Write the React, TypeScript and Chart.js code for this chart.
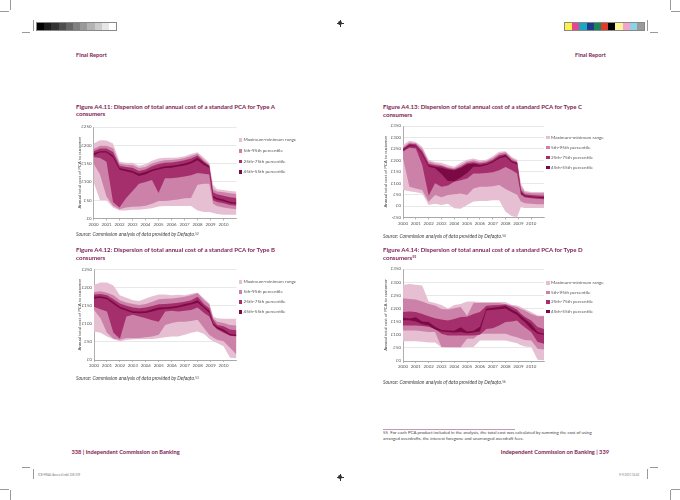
import React, { useEffect, useRef } from "react";
import { Chart, registerables } from "chart.js";

Chart.register(...registerables);

// ---------- data ----------
const YEARS = [2000, 2000.5, 2001, 2001.5, 2002, 2002.5, 2003, 2003.5, 2004, 2004.5, 2005, 2005.5, 2006, 2006.5, 2007, 2007.5, 2008, 2008.5, 2008.9, 2009.2, 2009.5, 2010, 2010.5, 2011];
const X_TICK_LABELS = ["2000", "2001", "2002", "2003", "2004", "2005", "2006", "2007", "2008", "2009", "2010"];
const LEGEND_LABELS = ["Maximum-minimum range", "5th-95th percentile", "25th-75th percentile", "45th-55th percentile"];
const BAND_COLORS = ["#e7bfd3", "#cc81a9", "#a52f6c", "#7b0a44"];
const Y_TITLE = "Annual total cost of PCA to customer";

// Type A
const A_MAX = [205, 214, 213, 205, 155, 152, 152, 144, 148, 158, 164, 166, 166, 167, 170, 176, 181, 166, 152, 92, 80, 78, 75, 74];
const A_P95 = [190, 199, 199, 192, 150, 147, 146, 138, 141, 150, 156, 159, 160, 162, 165, 171, 177, 160, 148, 80, 74, 72, 69, 67];
const A_P75 = [184, 191, 191, 182, 144, 141, 139, 130, 134, 143, 149, 152, 153, 156, 159, 164, 172, 155, 145, 72, 66, 62, 58, 56];
const A_P55 = [178, 184, 184, 172, 138, 134, 130, 122, 127, 134, 139, 143, 144, 147, 150, 156, 166, 152, 143, 62, 56, 52, 46, 44];
const A_P45 = [172, 180, 180, 167, 133, 129, 125, 116, 121, 129, 134, 138, 139, 142, 145, 150, 159, 146, 139, 57, 51, 47, 42, 40];
const A_P25 = [168, 165, 155, 45, 30, 55, 75, 95, 100, 105, 70, 110, 110, 112, 115, 118, 124, 122, 120, 50, 45, 42, 37, 35];
const A_P5 = [150, 120, 60, 35, 25, 30, 32, 33, 35, 40, 48, 48, 50, 52, 55, 56, 92, 95, 95, 40, 34, 30, 27, 25];
const A_MIN = [100, 50, 50, 30, 22, 22, 24, 24, 26, 28, 33, 34, 34, 34, 34, 34, 22, 18, 18, 15, 12, 10, 10, 10];
const A_Y_LABELS = ["£0", "£50", "£100", "£150", "£200", "£250"];

// Type B
const B_MAX = [208, 214, 214, 206, 179, 172, 165, 163, 170, 176, 181, 181, 179, 180, 179, 183, 186, 170, 156, 120, 115, 114, 114, 114];
const B_P95 = [188, 190, 186, 179, 165, 159, 155, 152, 155, 161, 168, 169, 170, 172, 175, 179, 185, 165, 154, 115, 106, 102, 97, 95];
const B_P75 = [181, 182, 179, 168, 156, 150, 145, 143, 145, 149, 154, 155, 156, 158, 161, 165, 175, 154, 143, 111, 97, 93, 84, 82];
const B_P55 = [175, 176, 172, 160, 147, 141, 135, 134, 135, 140, 145, 146, 147, 150, 155, 158, 165, 148, 136, 100, 92, 84, 72, 70];
const B_P45 = [170, 171, 168, 155, 142, 136, 130, 129, 130, 134, 139, 141, 142, 145, 149, 153, 158, 143, 130, 96, 87, 79, 68, 66];
const B_P25 = [147, 140, 134, 75, 59, 120, 125, 120, 115, 110, 106, 134, 136, 134, 136, 138, 145, 130, 120, 97, 85, 75, 68, 65];
const B_P5 = [138, 115, 75, 59, 56, 61, 60, 61, 63, 65, 70, 97, 102, 106, 106, 108, 111, 88, 70, 62, 56, 52, 34, 15];
const B_MIN = [79, 75, 65, 57, 52, 55, 57, 57, 58, 58, 60, 63, 65, 65, 70, 75, 79, 72, 59, 52, 47, 38, 6, 5];
const B_Y_LABELS = ["£0", "£50", "£100", "£150", "£200", "£250"];

// Type C
const C_MAX = [268, 285, 280, 259, 203, 193, 189, 179, 172, 189, 203, 208, 200, 203, 218, 237, 240, 215, 203, 99, 67, 62, 61, 61];
const C_P95 = [258, 278, 275, 250, 195, 185, 180, 170, 165, 180, 195, 200, 193, 197, 210, 230, 235, 208, 197, 85, 60, 57, 56, 56];
const C_P75 = [252, 272, 270, 240, 185, 178, 175, 165, 160, 172, 188, 192, 186, 190, 202, 222, 228, 200, 192, 70, 52, 48, 46, 45];
const C_P55 = [247, 267, 264, 230, 178, 172, 168, 160, 157, 166, 182, 186, 180, 184, 196, 215, 223, 196, 188, 60, 46, 42, 40, 38];
const C_P45 = [243, 262, 260, 225, 172, 165, 140, 110, 108, 125, 145, 172, 172, 178, 190, 208, 216, 190, 182, 55, 42, 38, 36, 34];
const C_P25 = [238, 255, 252, 180, 45, 100, 84, 90, 106, 113, 120, 142, 142, 145, 148, 157, 171, 157, 142, 50, 38, 34, 32, 30];
const C_P5 = [208, 84, 77, 70, 19, 48, 38, 48, 52, 55, 48, 77, 84, 84, 87, 92, 75, 60, 50, 20, 12, 10, 8, 8];
const C_MIN = [70, 65, 60, 55, 5, 10, 5, 10, -10, -12, 5, 20, 22, 22, 25, 25, -25, -45, -48, -5, -8, -8, -8, -8];
const C_Y_LABELS = ["-£50", "£0", "£50", "£100", "£150", "£200", "£250", "£300", "£350"];

// Type D
const D_MAX = [289, 293, 290, 287, 226, 221, 213, 200, 213, 217, 226, 226, 224, 224, 224, 224, 224, 213, 211, 205, 198, 186, 173, 172];
const D_P95 = [239, 236, 234, 226, 217, 211, 198, 196, 201, 205, 172, 221, 221, 221, 221, 221, 217, 211, 205, 198, 192, 179, 170, 170];
const D_P75 = [186, 188, 186, 179, 170, 163, 158, 154, 160, 167, 168, 179, 186, 210, 212, 213, 215, 205, 195, 180, 168, 154, 129, 122];
const D_P55 = [165, 162, 166, 150, 148, 130, 118, 116, 115, 128, 112, 115, 130, 200, 203, 205, 210, 195, 185, 172, 160, 141, 110, 104];
const D_P45 = [155, 155, 150, 140, 135, 120, 112, 110, 108, 110, 106, 108, 112, 192, 195, 197, 200, 185, 175, 160, 148, 122, 104, 100];
const D_P25 = [135, 135, 135, 133, 130, 122, 104, 97, 97, 97, 97, 97, 100, 122, 125, 135, 148, 150, 154, 140, 128, 110, 72, 66];
const D_P5 = [116, 116, 116, 113, 110, 110, 53, 53, 53, 53, 85, 85, 104, 104, 104, 104, 104, 95, 90, 85, 80, 78, 47, 44];
const D_MIN = [75, 75, 75, 73, 70, 70, 52, 50, 50, 50, 53, 53, 78, 78, 78, 78, 78, 72, 68, 60, 55, 53, 5, 3];
const D_Y_LABELS = ["£0", "£50", "£100", "£150", "£200", "£250", "£300", "£350"];

// ---------- styling ----------
const FONT = "Lato, 'Open Sans', sans-serif";
const MAGENTA = "#7e1c52";

type Rect = { left: number; top: number; width: number; height: number };
type Area = { left: number; top: number; right: number; bottom: number };

interface Spec {
  bands: [number[], number[]][];
  yMin: number;
  yLabels: string[];
  canvas: Rect;
  area: Area;
  titleX: number;
}

const SPEC_A: Spec = {
  bands: [[A_MIN, A_MAX], [A_P5, A_P95], [A_P25, A_P75], [A_P45, A_P55]],
  yMin: 0, yLabels: A_Y_LABELS,
  canvas: { left: 72, top: 120, width: 171, height: 116 },
  area: { left: 93.5, top: 127, right: 236.5, bottom: 218.5 },
  titleX: 79.5,
};
const SPEC_B: Spec = {
  bands: [[B_MIN, B_MAX], [B_P5, B_P95], [B_P25, B_P75], [B_P45, B_P55]],
  yMin: 0, yLabels: B_Y_LABELS,
  canvas: { left: 72, top: 262, width: 171, height: 112 },
  area: { left: 94, top: 269.5, right: 236.5, bottom: 360 },
  titleX: 80,
};
const SPEC_C: Spec = {
  bands: [[C_MIN, C_MAX], [C_P5, C_P95], [C_P25, C_P75], [C_P45, C_P55]],
  yMin: -50, yLabels: C_Y_LABELS,
  canvas: { left: 380, top: 119, width: 170, height: 116 },
  area: { left: 403, top: 126, right: 544, bottom: 217.5 },
  titleX: 386,
};
const SPEC_D: Spec = {
  bands: [[D_MIN, D_MAX], [D_P5, D_P95], [D_P25, D_P75], [D_P45, D_P55]],
  yMin: 0, yLabels: D_Y_LABELS,
  canvas: { left: 380, top: 262, width: 170, height: 112 },
  area: { left: 403, top: 269, right: 544, bottom: 361 },
  titleX: 386,
};

function BandChart({ spec }: { spec: Spec }) {
  const ref = useRef<HTMLCanvasElement>(null);
  const c = spec.canvas;
  useEffect(() => {
    const a = spec.area;
    const yw = a.left - c.left;
    const padTop = a.top - c.top;
    const padRight = c.left + c.width - a.right;
    const xh = c.top + c.height - a.bottom;
    const yMax = spec.yMin + 50 * (spec.yLabels.length - 1);
    const titleSize = 4.4;
    const titlePad = spec.titleX - c.left - (titleSize * 1.2) / 2;

    const datasets: any[] = [];
    for (let k = spec.bands.length - 1; k >= 0; k--) {
      const [lo, hi] = spec.bands[k];
      const common = {
        borderColor: "rgba(0,0,0,0)",
        borderWidth: 0,
        pointRadius: 0,
        pointHoverRadius: 0,
        tension: 0,
        backgroundColor: BAND_COLORS[k],
      };
      datasets.push({ ...common, label: LEGEND_LABELS[k] + " low", data: YEARS.map((x, i) => ({ x, y: lo[i] })), fill: false });
      datasets.push({ ...common, label: LEGEND_LABELS[k], data: YEARS.map((x, i) => ({ x, y: hi[i] })), fill: "-1" });
    }

    const chart = new Chart(ref.current as HTMLCanvasElement, {
      type: "line",
      data: { datasets },
      options: {
        animation: false,
        responsive: false,
        devicePixelRatio: 1,
        events: [],
        layout: { padding: { left: 0, top: padTop, right: padRight, bottom: 0 } },
        plugins: { legend: { display: false }, tooltip: { enabled: false } },
        scales: {
          x: {
            type: "linear",
            min: 2000,
            max: 2011,
            afterBuildTicks: (s: any) => {
              s.ticks = X_TICK_LABELS.map((_, i) => ({ value: 2000 + i }));
            },
            afterFit: (s: any) => {
              s.height = xh;
            },
            ticks: {
              autoSkip: false,
              maxRotation: 0,
              padding: 1,
              color: "#555",
              font: { family: FONT, size: 4.4 },
              callback: (v: any) => X_TICK_LABELS[Math.round(Number(v) - 2000)] ?? "",
            },
            grid: { drawOnChartArea: false, drawTicks: true, tickLength: 2, color: "#8c8c8c", lineWidth: 0.6 },
            border: { display: true, color: "#8c8c8c", width: 0.7 },
          },
          y: {
            type: "linear",
            min: spec.yMin,
            max: yMax,
            afterBuildTicks: (s: any) => {
              s.ticks = spec.yLabels.map((_, i) => ({ value: spec.yMin + 50 * i }));
            },
            afterFit: (s: any) => {
              s.width = yw;
            },
            ticks: {
              padding: 2,
              color: "#555",
              font: { family: FONT, size: 4.4 },
              callback: (v: any) => spec.yLabels[Math.round((Number(v) - spec.yMin) / 50)] ?? "",
            },
            grid: { drawTicks: false, color: "#d9d9d9", lineWidth: 0.6 },
            border: { display: true, color: "#8c8c8c", width: 0.7 },
            title: {
              display: true,
              text: Y_TITLE,
              color: "#444",
              font: { family: FONT, size: titleSize },
              padding: { top: titlePad, bottom: 0 },
            },
          },
        },
      } as any,
    });
    return () => chart.destroy();
  }, [spec]);
  return (
    <canvas
      ref={ref}
      width={c.width}
      height={c.height}
      style={{ position: "absolute", left: c.left, top: c.top, width: c.width, height: c.height }}
    />
  );
}

function T({ x, y, size, children, style }: { x: number; y: number; size: number; children: any; style?: any }) {
  return (
    <div
      style={{
        position: "absolute",
        left: x,
        top: y - size * 0.6,
        fontSize: size,
        lineHeight: 1.2,
        whiteSpace: "nowrap",
        fontFamily: FONT,
        ...style,
      }}
    >
      {children}
    </div>
  );
}

function Legend({ x, ys }: { x: number; ys: number[] }) {
  return (
    <>
      {LEGEND_LABELS.map((lab, i) => (
        <React.Fragment key={lab}>
          <div style={{ position: "absolute", left: x, top: ys[i] - 1.8, width: 3.6, height: 3.6, background: BAND_COLORS[i] }} />
          <T x={x + 5} y={ys[i]} size={4.6} style={{ color: "#555" }}>
            {lab}
          </T>
        </React.Fragment>
      ))}
    </>
  );
}

function Title({ x, y, line1, line2 }: { x: number; y: number; line1: string; line2: any }) {
  return (
    <>
      <T x={x} y={y} size={6.1} style={{ color: MAGENTA, fontWeight: 700 }}>{line1}</T>
      <T x={x} y={y + 7.2} size={6.1} style={{ color: MAGENTA, fontWeight: 700 }}>{line2}</T>
    </>
  );
}

function Sup({ n }: { n: string }) {
  return <span style={{ fontSize: "0.6em", verticalAlign: "0.5em", fontStyle: "normal" }}>{n}</span>;
}

function Source({ x, y, n }: { x: number; y: number; n: string }) {
  return (
    <T x={x} y={y} size={5} style={{ color: "#444", fontStyle: "italic" }}>
      Source: Commission analysis of data provided by Defaqto.<Sup n={n} />
    </T>
  );
}

function Line({ x, y, w, h, c }: { x: number; y: number; w: number; h: number; c?: string }) {
  return <div style={{ position: "absolute", left: x, top: y, width: w, height: h, background: c || "#9a9a9a" }} />;
}

function Reg({ x, y }: { x: number; y: number }) {
  return (
    <>
      <Line x={x - 3.5} y={y - 0.25} w={7} h={0.5} c="#333" />
      <Line x={x - 0.25} y={y - 3.5} w={0.5} h={7} c="#333" />
      <div style={{ position: "absolute", left: x - 2, top: y - 2, width: 4, height: 4, borderRadius: "50%", background: "#333" }} />
    </>
  );
}

const GRAY_STRIP = ["#000", "#1c1c1c", "#333", "#4d4d4d", "#666", "#808080", "#999", "#b3b3b3", "#ccc", "#e6e6e6", "#fff"];
const COLOR_STRIP = ["#fff14a", "#e6468c", "#19a8c4", "#1f3b8c", "#178658", "#e23a2c", "#000", "#fff49c", "#f1a3c8", "#8dd3e6", "#9a9a9a"];

function Strip({ x, y, colors }: { x: number; y: number; colors: string[] }) {
  return (
    <div style={{ position: "absolute", left: x, top: y, display: "flex", border: "0.5px solid #888" }}>
      {colors.map((c, i) => (
        <div key={i} style={{ width: 7.2, height: 7, background: c }} />
      ))}
    </div>
  );
}

export default function App() {
  return (
    <div style={{ position: "absolute", left: 0, top: 0, width: 680, height: 500, background: "#fff", overflow: "hidden", fontFamily: FONT }}>
      {/* printer marks */}
      <Line x={10} y={0} w={0.6} h={10} />
      <Line x={0} y={10.5} w={9} h={0.6} />
      <Line x={670} y={0} w={0.6} h={10} />
      <Line x={671} y={10.5} w={9} h={0.6} />
      <Line x={22} y={32} w={8} h={0.6} />
      <Line x={650} y={32} w={8} h={0.6} />
      <Line x={33} y={20} w={0.6} h={11} />
      <Line x={647} y={20} w={0.6} h={11} />
      <Strip x={36} y={22} colors={GRAY_STRIP} />
      <Strip x={564} y={22} colors={COLOR_STRIP} />
      <Reg x={340} y={23} />

      <Line x={22} y={467} w={8} h={0.6} />
      <Line x={650} y={467} w={8} h={0.6} />
      <Line x={33} y={469} w={0.6} h={10} />
      <Line x={647} y={469} w={0.6} h={10} />
      <Line x={10} y={490} w={0.6} h={10} />
      <Line x={0} y={489} w={9} h={0.6} />
      <Line x={670} y={490} w={0.6} h={10} />
      <Line x={671} y={489} w={9} h={0.6} />
      <Reg x={340} y={477} />
      <T x={38} y={476} size={2.8} style={{ color: "#777" }}>ICB-FINAL-Annex-4.indd   338-339</T>
      <T x={619} y={476} size={2.8} style={{ color: "#777" }}>9/9/2011   10:43</T>

      {/* running heads */}
      <T x={76} y={55} size={5.7} style={{ color: MAGENTA, fontWeight: 700 }}>Final Report</T>
      <T x={575} y={55} size={5.7} style={{ color: MAGENTA, fontWeight: 700 }}>Final Report</T>

      {/* Figure A4.11 */}
      <Title x={76} y={106.5} line1="Figure A4.11: Dispersion of total annual cost of a standard PCA for Type A" line2="consumers" />
      <BandChart spec={SPEC_A} />
      <Legend x={238.5} ys={[140, 151, 161.5, 172]} />
      <Source x={76} y={233.5} n="52" />

      {/* Figure A4.12 */}
      <Title x={76} y={250} line1="Figure A4.12: Dispersion of total annual cost of a standard PCA for Type B" line2="consumers" />
      <BandChart spec={SPEC_B} />
      <Legend x={238.5} ys={[282, 292, 302, 312]} />
      <Source x={76} y={378} n="53" />

      {/* Figure A4.13 */}
      <Title x={383} y={107} line1="Figure A4.13: Dispersion of total annual cost of a standard PCA for Type C" line2="consumers" />
      <BandChart spec={SPEC_C} />
      <Legend x={546} ys={[137.5, 147.5, 157.5, 167.5]} />
      <Source x={383} y={236} n="54" />

      {/* Figure A4.14 */}
      <Title
        x={383}
        y={250}
        line1="Figure A4.14: Dispersion of total annual cost of a standard PCA for Type D"
        line2={<>consumers<Sup n="55" /></>}
      />
      <BandChart spec={SPEC_D} />
      <Legend x={546} ys={[283, 292.5, 302, 311.5]} />
      <Source x={383} y={382} n="56" />

      {/* footnote */}
      <Line x={383} y={428.5} w={132} h={0.8} c="#c49ab3" />
      <T x={383} y={433} size={4.4} style={{ color: "#444" }}>
        55&nbsp; For each PCA product included in the analysis, the total cost was calculated by summing the cost of using
      </T>
      <T x={383} y={439} size={4.4} style={{ color: "#444" }}>
        arranged overdrafts, the interest foregone and unarranged overdraft fees.
      </T>

      {/* folios */}
      <T x={71.5} y={452} size={5.7} style={{ color: MAGENTA, fontWeight: 700 }}>338 | Independent Commission on Banking</T>
      <div
        style={{
          position: "absolute",
          right: 680 - 609,
          top: 452 - 5.7 * 0.6,
          fontSize: 5.7,
          lineHeight: 1.2,
          whiteSpace: "nowrap",
          fontFamily: FONT,
          color: MAGENTA,
          fontWeight: 700,
        }}
      >
        Independent Commission on Banking | 339
      </div>
    </div>
  );
}
